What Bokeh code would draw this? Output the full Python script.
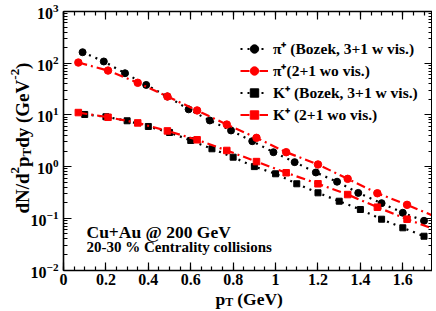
import math
from bokeh.plotting import figure
from bokeh.models import (Range1d, FixedTicker, LinearAxis, LogAxis, Label, Legend, LegendItem,
                          CustomJSTickFormatter)
from bokeh.embed import file_html
from bokeh.resources import INLINE

# ---- data ----
pt_pi_bozek = [0.09, 0.19, 0.29, 0.39, 0.49, 0.59, 0.69, 0.79, 0.89, 0.99, 1.09, 1.19, 1.29, 1.39, 1.50, 1.60, 1.70]
pi_bozek = [163, 108, 64, 38, 22.7, 12.8, 7.8, 5.0, 3.1, 1.9, 1.22, 0.77, 0.51, 0.31, 0.196, 0.128, 0.0895]

pt_pi_21 = [0.07, 0.21, 0.35, 0.49, 0.63, 0.77, 0.91, 1.05, 1.20, 1.34, 1.48, 1.62, 1.76]
pi_21 = [103, 72, 41.8, 22.7, 12.2, 6.5, 3.6, 1.9, 1.10, 0.58, 0.305, 0.182, 0.105]

pt_k_bozek = [0.10, 0.20, 0.30, 0.40, 0.50, 0.60, 0.70, 0.80, 0.90, 1.00, 1.10, 1.20, 1.30, 1.40, 1.50, 1.60, 1.70]
k_bozek = [10.2, 9.2, 7.7, 5.97, 4.57, 3.2, 2.21, 1.52, 1.0, 0.726, 0.465, 0.311, 0.214, 0.148, 0.096, 0.0655, 0.045]

pt_k_21 = [0.07, 0.21, 0.35, 0.49, 0.63, 0.77, 0.91, 1.05, 1.20, 1.34, 1.48, 1.62, 1.76]
k_21 = [11.1, 9.0, 7.0, 4.9, 3.3, 2.05, 1.25, 0.76, 0.465, 0.288, 0.164, 0.096, 0.059]

x_ticks = [0, 0.2, 0.4, 0.6, 0.8, 1.0, 1.2, 1.4, 1.6]
x_minor = [i * 0.05 for i in range(0, 35)]
y_ticks = [1e-2, 1e-1, 1e0, 1e1, 1e2, 1e3]
y_minor = [m * 10.0 ** e for e in range(-2, 3) for m in range(1, 10)]

legend_labels = ["π⁺ (Bozek, 3+1 w vis.)", "π⁺(2+1 wo vis.)", "K⁺ (Bozek, 3+1 w vis.)", "K⁺ (2+1 wo vis.)"]

FONT = "Liberation Serif"
X0, X1 = 0.0, 1.74
Y0, Y1 = 1e-2, 1e3

# ---- layout geometry (canvas pixels) ----
W, H = 432, 311
BOX_L, BOX_R, BOX_T, BOX_B = 63, 432, 11, 269.5
PX = (X1 - X0) / (BOX_R - BOX_L)              # data per px (x)
DEC = (BOX_B - BOX_T) / 5.0                     # px per decade (y)

def dx(cx):  # canvas x -> data x
    return X0 + (cx - BOX_L) * PX

def dy(cy):  # canvas y -> data y (log)
    return 10 ** (math.log10(Y1) - (cy - BOX_T) / DEC)

p = figure(width=W, height=H, title=None,
           x_range=Range1d(dx(0), X1), y_range=Range1d(dy(H), dy(0)),
           y_axis_type="log", output_backend="svg", toolbar_location=None,
           min_border=0, min_border_left=0, min_border_right=0, min_border_top=0, min_border_bottom=0,
           background_fill_color="white", border_fill_color="white")
p.xgrid.visible = False
p.ygrid.visible = False
p.outline_line_color = None

xt = FixedTicker(ticks=x_ticks, minor_ticks=x_minor)
yt = FixedTicker(ticks=y_ticks, minor_ticks=y_minor)

def style_axis(ax):
    ax.axis_line_color = "black"
    ax.axis_line_width = 1.6
    ax.major_tick_in = 8
    ax.major_tick_out = 0
    ax.minor_tick_in = 4
    ax.minor_tick_out = 0
    ax.major_tick_line_width = 1.2
    ax.minor_tick_line_width = 1.2
    ax.major_label_text_font = FONT
    ax.major_label_text_font_style = "bold"
    ax.major_label_text_font_size = "16px"
    ax.major_label_text_color = "black"
    ax.axis_label = None

xa = p.xaxis[0]
xa.ticker = xt
xa.formatter = CustomJSTickFormatter(code="return (Math.round(tick*10)/10).toString();")
style_axis(xa)
xa.major_label_standoff = 4
xa.fixed_location = Y0
xa.bounds = (X0, X1)

ya = p.yaxis[0]
ya.ticker = yt
style_axis(ya)
ya.major_label_standoff = 5
ya.fixed_location = X0
ya.bounds = (Y0, Y1)

empty = CustomJSTickFormatter(code="return '';")
top = LinearAxis(ticker=xt, formatter=empty, major_label_standoff=0, fixed_location=Y1, bounds=(X0, X1))
style_axis(top)
p.add_layout(top, "above")
right = LogAxis(ticker=yt, formatter=empty, major_label_standoff=0, fixed_location=X1, bounds=(Y0, Y1))
style_axis(right)
right.axis_line_width = 3
p.add_layout(right, "right")

# ---- series ----
l1 = p.line(pt_pi_bozek, pi_bozek, line_color="black", line_width=2.2, line_dash="2 5")
s1 = p.scatter(pt_pi_bozek, pi_bozek, marker="circle", size=7, color="black")
l2 = p.line(pt_pi_21, pi_21, line_color="red", line_width=2.2, line_dash="9 4 2 4")
s2 = p.scatter(pt_pi_21, pi_21, marker="circle", size=7.5, color="red")
l3 = p.line(pt_k_bozek, k_bozek, line_color="black", line_width=2.2, line_dash="2 5")
s3 = p.scatter(pt_k_bozek, k_bozek, marker="square", size=6, color="black")
l4 = p.line(pt_k_21, k_21, line_color="red", line_width=2.2, line_dash="9 4 2 4")
s4 = p.scatter(pt_k_21, k_21, marker="square", size=6.5, color="red")

legend = Legend(items=[LegendItem(label=legend_labels[0], renderers=[l1, s1]),
                       LegendItem(label=legend_labels[1], renderers=[l2, s2]),
                       LegendItem(label=legend_labels[2], renderers=[l3, s3]),
                       LegendItem(label=legend_labels[3], renderers=[l4, s4])],
                location=(240, H - 41 - 84), padding=0, margin=0, spacing=0,
                glyph_height=21, glyph_width=28, label_height=21, label_standoff=5,
                label_text_font=FONT, label_text_font_style="bold", label_text_font_size="15.5px",
                label_text_color="black",
                background_fill_alpha=0, border_line_alpha=0)
p.add_layout(legend)

def lab(text, cx, cy, size, angle=0.0):
    p.add_layout(Label(text=text, x=dx(cx), y=dy(cy), x_units="data", y_units="data",
                       angle=angle, text_align="left", text_baseline="alphabetic",
                       text_font=FONT, text_font_style="bold", text_font_size=size,
                       text_color="black"))

# annotations
lab("Cu+Au @ 200 GeV", 86, 231, "17.5px")
lab("20-30 % Centrality collisions", 86, 246, "15px")

# x axis title: p_T (GeV)
lab("p", 215, 298, "17.5px")
lab("T", 224.7, 301.5, "12px")
lab("(GeV)", 236.7, 298, "17.5px")

# y axis title: dN/d^2 p_T dy (GeV^-2), rotated
A = math.pi / 2
bx = 22
lab("dN/d", bx, 213, "19px", A)
lab("2", bx - 8, 173, "13px", A)
lab("p", bx, 166.5, "19px", A)
lab("T", bx + 4, 156, "13px", A)
lab("dy (GeV", bx, 147.3, "19px", A)
lab("-2", bx - 8, 79.2, "13px", A)
lab(")", bx, 68.4, "19px", A)

open("out.html", "w").write(file_html(p, INLINE))
